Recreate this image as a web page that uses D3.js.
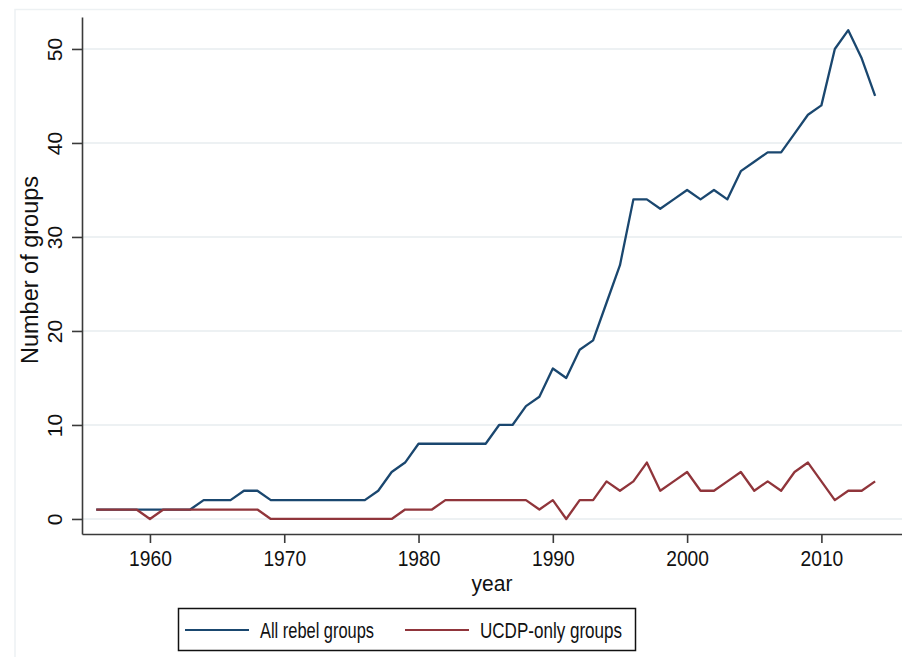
<!DOCTYPE html>
<html>
<head>
<meta charset="utf-8">
<script src="https://cdnjs.cloudflare.com/ajax/libs/d3/7.8.5/d3.min.js"></script>
<style>
	body { margin: 0; background: #ffffff; }
	svg { display: block; font-family: "Liberation Sans", Arial, sans-serif; }
	.axis path, .axis line { stroke: #3a3a3a; stroke-width: 1.6; }
	.grid line { stroke: #e7edef; stroke-width: 1.6; }
</style>
</head>
<body>
<script>
//the series
var years = d3.range(1956, 2015);
var allRebel = [1, 1, 1, 1, 1, 1, 1, 1, 2, 2,
	2, 3, 3, 2, 2, 2, 2, 2, 2, 2,
	2, 3, 5, 6, 8, 8, 8, 8, 8, 8,
	10, 10, 12, 13, 16, 15, 18, 19, 23, 27,
	34, 34, 33, 34, 35, 34, 35, 34, 37, 38,
	39, 39, 41, 43, 44, 50, 52, 49, 45];
var ucdpOnly = [1, 1, 1, 1, 0, 1, 1, 1, 1, 1,
	1, 1, 1, 0, 0, 0, 0, 0, 0, 0,
	0, 0, 0, 1, 1, 1, 2, 2, 2, 2,
	2, 2, 2, 1, 2, 0, 2, 2, 4, 3,
	4, 6, 3, 4, 5, 3, 3, 4, 5, 3,
	4, 3, 5, 6, 4, 2, 3, 3, 4];

var xTicks = [1960, 1970, 1980, 1990, 2000, 2010];
var yTicks = [0, 10, 20, 30, 40, 50];
var seriesNames = ["All rebel groups", "UCDP-only groups"];
var seriesColors = ["#1a476f", "#90353b"];

var width = 902, height = 657;

var svg = d3.select("body").append("svg")
	.attr("width", width)
	.attr("height", height);

//faint outer frame (graph region)
svg.append("path")
	.attr("d", "M15," + height + "V9.5H" + width)
	.attr("fill", "none")
	.attr("stroke", "#edf1f3")
	.attr("stroke-width", 1.5);

//scales (plot region runs off the right edge, like the cropped original)
var xScale = d3.scaleLinear().domain([1954.94, 2016.3]).range([82, 906]),
	yScale = d3.scaleLinear().domain([-1.6, 53.4]).range([534, 17]);

//grid
svg.append("g").attr("class", "grid")
	.selectAll("line")
	.data(yTicks).enter()
		.append("line")
		.attr("x1", 83)
		.attr("x2", width)
		.attr("y1", function(d) { return yScale(d); })
		.attr("y2", function(d) { return yScale(d); });

//axes
var gX = svg.append("g")
	.attr("class", "axis")
	.attr("transform", "translate(0," + yScale(-1.6) + ")")
	.call(d3.axisBottom(xScale).tickValues(xTicks).tickSize(9).tickSizeOuter(0).tickFormat(d3.format("d")));
gX.selectAll("text")
	.attr("y", 0)
	.attr("dy", 0)
	.attr("transform", "translate(0,32) scale(0.96,1.12)")
	.style("font-size", "20px")
	.style("fill", "#111");

var gY = svg.append("g")
	.attr("class", "axis")
	.attr("transform", "translate(" + xScale(1954.94) + ",0)")
	.call(d3.axisLeft(yScale).tickValues(yTicks).tickSize(10).tickSizeOuter(0));
gY.selectAll("text")
	.attr("transform", "rotate(-90)")
	.attr("x", 0)
	.attr("y", -20)
	.attr("dy", 0)
	.style("text-anchor", "middle")
	.style("font-size", "21px")
	.style("fill", "#111");

//axis titles
svg.append("text")
	.attr("transform", "translate(38,270) rotate(-90)")
	.style("text-anchor", "middle")
	.style("font-size", "23.5px")
	.style("fill", "#111")
	.text("Number of groups");
svg.append("text")
	.attr("transform", "translate(492,591) scale(1,1.08)")
	.style("text-anchor", "middle")
	.style("font-size", "21px")
	.style("fill", "#111")
	.text("year");

//lines
var line = d3.line()
	.x(function(d) { return xScale(d.x); })
	.y(function(d) { return yScale(d.y); });

[allRebel, ucdpOnly].forEach(function(vals, j) {
	var pts = years.map(function(yr, i) { return {x: yr, y: vals[i]}; });
	svg.append("path")
		.datum(pts)
		.attr("fill", "none")
		.attr("stroke", seriesColors[j])
		.attr("stroke-width", 2.3)
		.attr("stroke-linejoin", "round")
		.attr("d", line);
});

//legend
var legend = svg.append("g").attr("class", "legend");
legend.append("rect")
	.attr("x", 178.5)
	.attr("y", 608.5)
	.attr("width", 457)
	.attr("height", 42)
	.attr("fill", "#fff")
	.attr("stroke", "#111")
	.attr("stroke-width", 1.5);

var legX = [185, 405],
	legTextX = [260, 480],
	legTextW = [114, 142];
seriesNames.forEach(function(name, j) {
	legend.append("line")
		.attr("x1", legX[j])
		.attr("x2", legX[j] + 64)
		.attr("y1", 630)
		.attr("y2", 630)
		.attr("stroke", seriesColors[j])
		.attr("stroke-width", 2.2);
	legend.append("text")
		.attr("x", legTextX[j])
		.attr("y", 638)
		.attr("textLength", legTextW[j])
		.attr("lengthAdjust", "spacingAndGlyphs")
		.style("font-size", "22px")
		.style("fill", "#111")
		.text(name);
});
</script>
</body>
</html>
